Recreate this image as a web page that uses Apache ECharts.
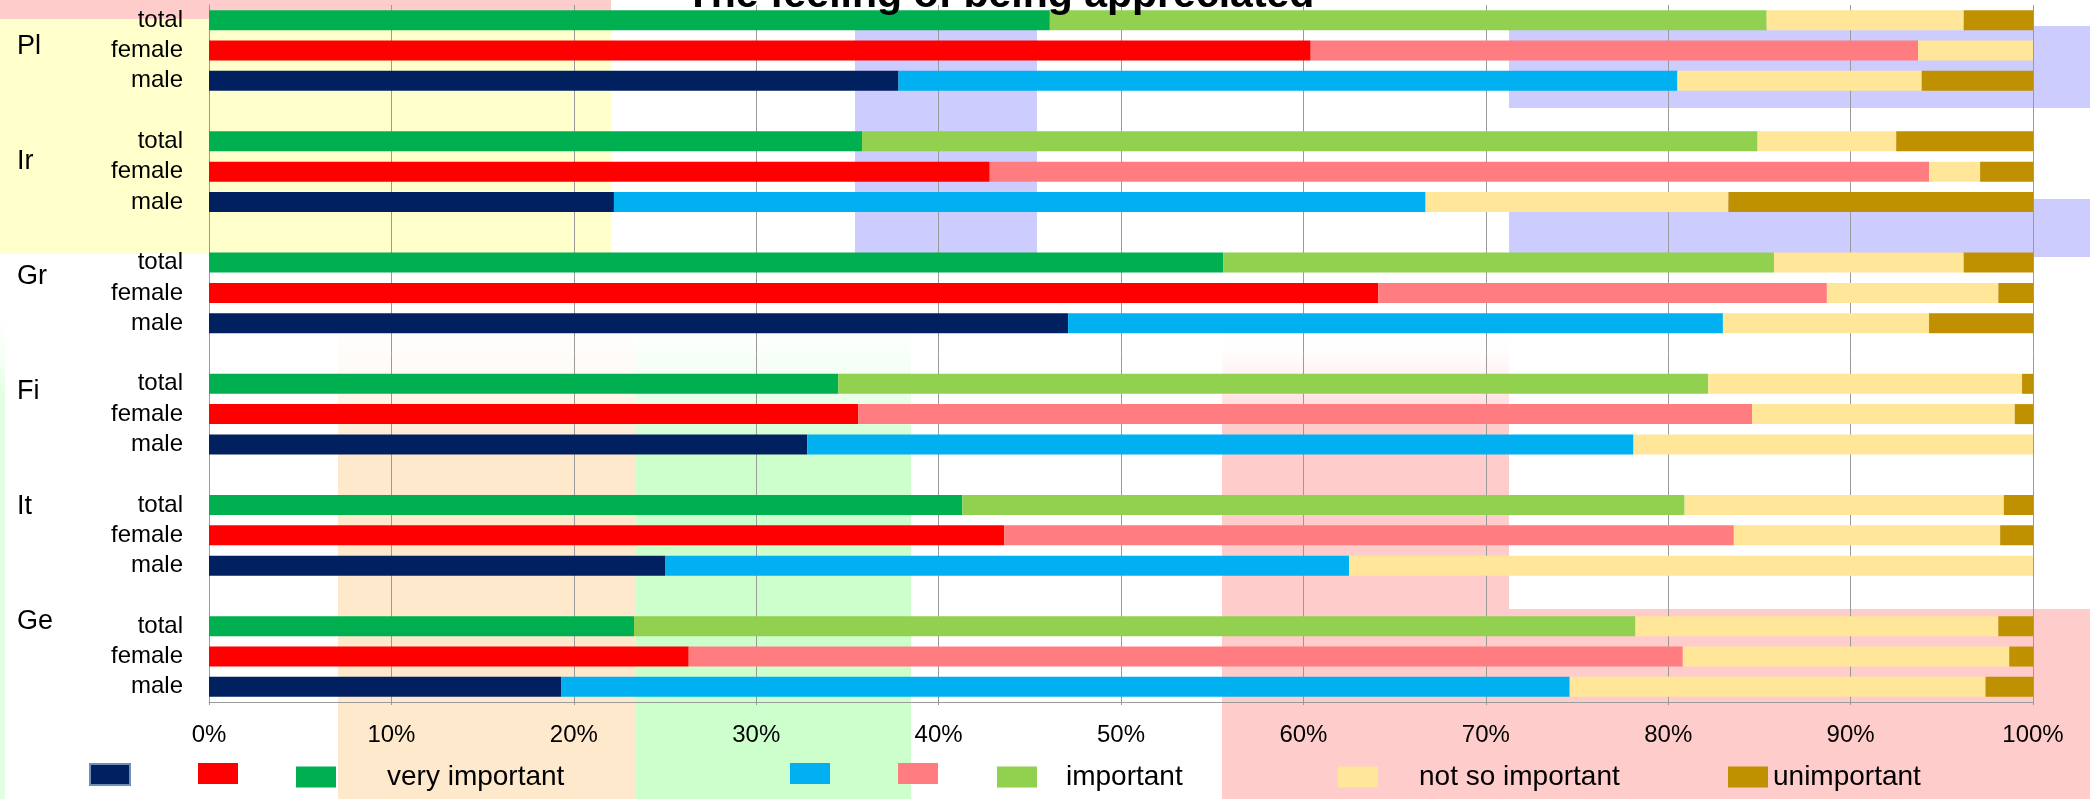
<!DOCTYPE html>
<html>
<head>
<meta charset="utf-8">
<title>The feeling of being appreciated</title>
<script src="https://cdn.jsdelivr.net/npm/echarts@6/dist/echarts.min.js"></script>
<style>
  html, body { margin: 0; padding: 0; background: #fff; }
  #chart { width: 2090px; height: 799px; }
</style>
</head>
<body>
<div id="chart"></div>
<script>
// values, rows per country: total, female, male
const countries = ['Pl', 'Ir', 'Gr', 'Fi', 'It', 'Ge'];
const groups = ['total', 'female', 'male'];
const veryImportant  = [46.1, 60.4, 37.8, 35.8, 42.8, 22.2, 55.6, 64.1, 47.1, 34.5, 35.6, 32.8, 41.3, 43.6, 25.0, 23.3, 26.3, 19.3];
const important      = [39.3, 33.3, 42.7, 49.1, 51.5, 44.5, 30.2, 24.6, 35.9, 47.7, 49.0, 45.3, 39.6, 40.0, 37.5, 54.9, 54.5, 55.3];
const notSoImportant = [10.8, 6.3, 13.4, 7.6, 2.8, 16.6, 10.4, 9.4, 11.3, 17.2, 14.4, 21.9, 17.5, 14.6, 37.5, 19.9, 17.9, 22.8];
const unimportant    = [3.8, 0, 6.1, 7.5, 2.9, 16.7, 3.8, 1.9, 5.7, 0.6, 1.0, 0, 1.6, 1.8, 0, 1.9, 1.3, 2.6];
const legendLabels = ['', '', 'very important', '', '', 'important', 'not so important', 'unimportant'];

const fontFamily = "'Liberation Sans', Arial, sans-serif";

// categories with an empty row between countries
const categories = [];
const rowIndex = [];
countries.forEach((c, ci) => {
  groups.forEach((g, gi) => {
    categories.push(c + ' ' + g);
    rowIndex.push(ci * 3 + gi);
  });
  if (ci < countries.length - 1) {
    categories.push('gap ' + ci);
    rowIndex.push(-1);
  }
});

const pick = (arr, group) => rowIndex.map(i =>
  (i >= 0 && (!group || groups[i % 3] === group)) ? arr[i] : '-');

const seriesDefs = [
  { name: 'male very important', color: '#002060', data: pick(veryImportant, 'male') },
  { name: 'female very important', color: '#ff0000', data: pick(veryImportant, 'female') },
  { name: 'very important', color: '#00b050', data: pick(veryImportant, 'total') },
  { name: 'male important', color: '#00b0f0', data: pick(important, 'male') },
  { name: 'female important', color: '#ff7c80', data: pick(important, 'female') },
  { name: 'important', color: '#92d050', data: pick(important, 'total') },
  { name: 'not so important', color: '#ffe699', data: pick(notSoImportant) },
  { name: 'unimportant', color: '#bf9000', data: pick(unimportant) }
];

// legend layout (pixels)
const legendLeft = [89, 198, 296, 790, 898, 997, 1338, 1728];
const legendTextShift = [0, 0, 46, 0, 0, 24, 36, 0];

// coloured blocks behind the chart
const fade = (color, from) => ({
  type: 'linear', x: 0, y: 0, x2: 0, y2: 1,
  colorStops: [{ offset: 0, color: 'rgba(255,255,255,0)' }, { offset: from, color: color }, { offset: 1, color: color }]
});
const blocks = [
  { x: 0, y: 0, w: 611, h: 19, fill: '#ffcccc' },
  { x: 0, y: 19, w: 611, h: 235, fill: '#ffffcc' },
  { x: 855, y: 12, w: 182, h: 241, fill: '#ccccff' },
  { x: 1509, y: 26, w: 581, h: 82, fill: '#ccccff' },
  { x: 1509, y: 199, w: 581, h: 58, fill: '#ccccff' },
  { x: 338, y: 300, w: 298, h: 499, fill: fade('#ffe9cc', 0.3) },
  { x: 636, y: 300, w: 275, h: 499, fill: fade('#ccffcc', 0.3) },
  { x: 1222, y: 330, w: 287, h: 469, fill: fade('#ffcccc', 0.2) },
  { x: 1509, y: 609, w: 581, h: 190, fill: '#ffcccc' },
  { x: 0, y: 300, w: 5, h: 499, fill: fade('#e0ffe0', 0.2) }
];

const graphics = blocks.map(b => ({
  type: 'rect', z: -10, silent: true,
  shape: { x: b.x, y: b.y, width: b.w, height: b.h },
  style: { fill: b.fill }
}));
countries.forEach((c, i) => {
  graphics.push({
    type: 'text', x: 17, y: 47 + i * 115,
    style: { text: c, fontSize: 27, fontFamily: fontFamily, fill: '#000', verticalAlign: 'middle' }
  });
});

const chart = echarts.init(document.getElementById('chart'));
chart.setOption({
  animation: false,
  textStyle: { fontFamily: fontFamily },
  title: {
    text: 'The feeling of being appreciated',
    left: 1000, top: -25, padding: 0, textAlign: 'center',
    textStyle: { fontSize: 41, fontWeight: 'bold', color: '#000', fontFamily: fontFamily }
  },
  graphic: graphics,
  legend: seriesDefs.map((s, i) => ({
    data: [i === 0 ? { name: s.name, itemStyle: { borderColor: '#6f8fba', borderWidth: 2 } } : { name: s.name }],
    left: legendLeft[i], top: 763, padding: 0,
    itemWidth: 40, itemHeight: 21, icon: 'rect', selectedMode: false,
    formatter: () => legendLabels[i],
    textStyle: { fontSize: 28, color: '#000', fontFamily: fontFamily, padding: [40, 0, 0, legendTextShift[i]] }
  })),
  grid: { left: 209, right: 57, top: 5, bottom: 97, containLabel: false },
  xAxis: {
    type: 'value', min: 0, max: 100, interval: 10,
    axisLine: { show: true, lineStyle: { color: '#9a9a9a' } },
    axisTick: { show: true, length: 3, lineStyle: { color: '#9a9a9a' } },
    splitLine: { show: true, lineStyle: { color: '#9a9a9a', width: 1 } },
    axisLabel: { formatter: '{value}%', fontSize: 24, color: '#000', margin: 21 }
  },
  yAxis: {
    type: 'category', inverse: true, data: categories,
    axisLine: { show: true, lineStyle: { color: '#9a9a9a' } },
    axisTick: { show: false },
    axisLabel: {
      interval: 0, fontSize: 24, color: '#000', margin: 26,
      formatter: v => v.startsWith('gap') ? '' : v.split(' ')[1]
    }
  },
  series: seriesDefs.map(s => ({
    name: s.name, type: 'bar', stack: 'all', barWidth: 20,
    itemStyle: { color: s.color },
    data: s.data
  }))
});
</script>
</body>
</html>
